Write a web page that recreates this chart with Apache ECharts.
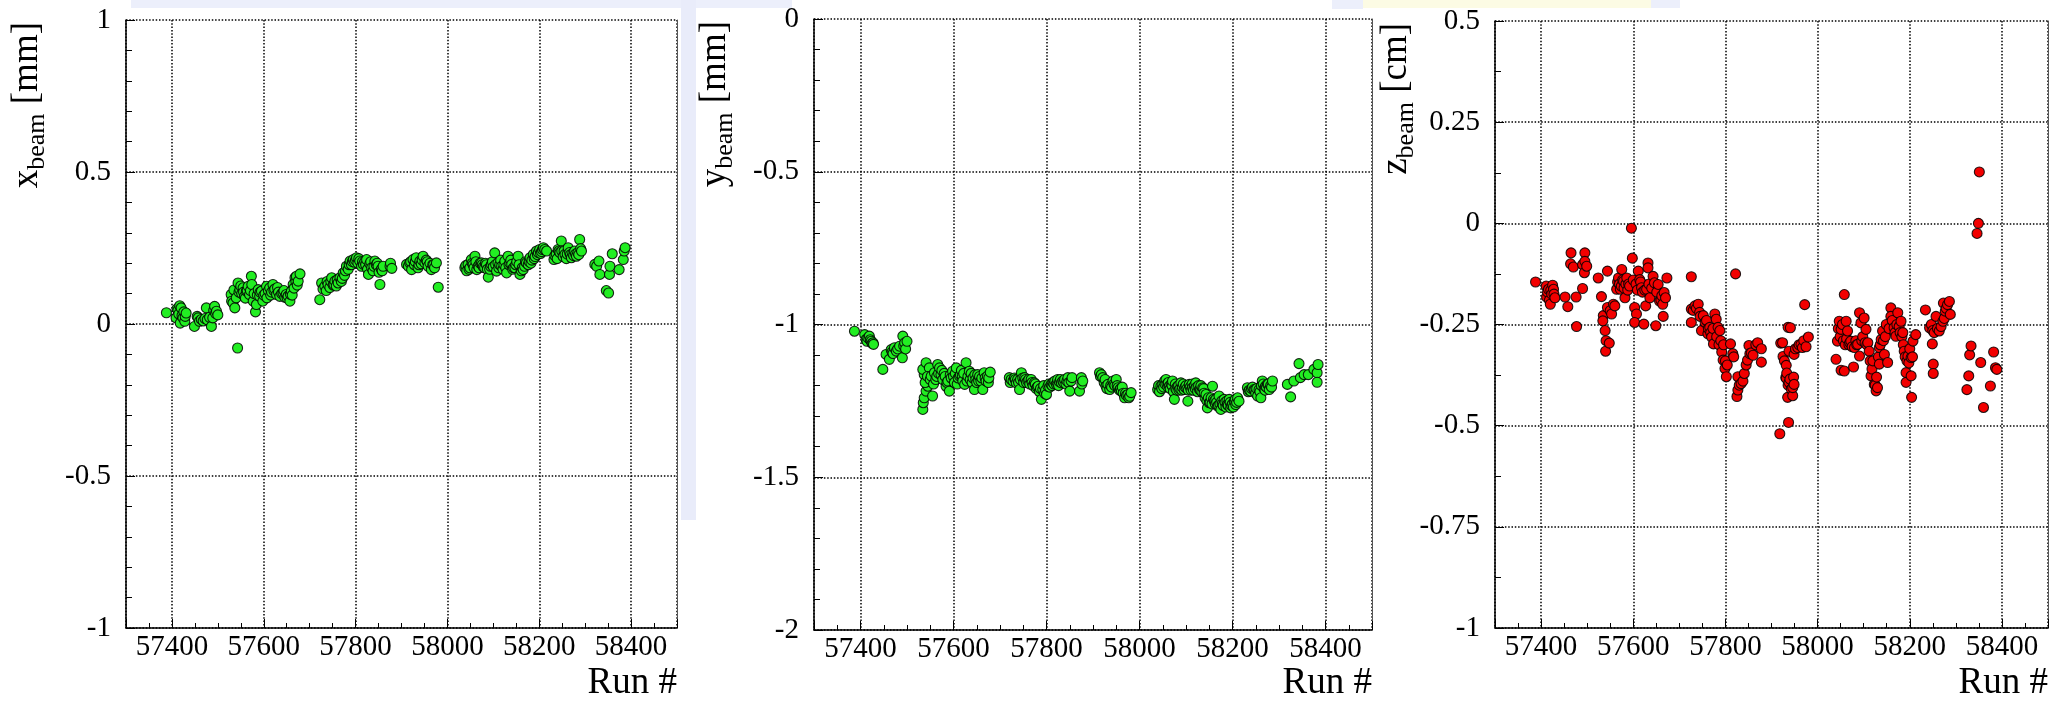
<!DOCTYPE html>
<html>
<head>
<meta charset="utf-8">
<title>Beam position vs run number</title>
<script src="https://cdn.jsdelivr.net/npm/echarts@6/dist/echarts.min.js"></script>
<style>
  html, body { margin: 0; padding: 0; background: #ffffff; }
  #chart { width: 2056px; height: 701px; }
</style>
</head>
<body>
<div id="chart"></div>
<script>
// Beam-spot position per run: [run number, position]
const xbeam = [
  [57388,0.037],[57409,0.020],[57411,0.050],[57413,0.045],[57415,0.033],[57417,0.060],[57418,0.003],
  [57420,0.053],[57422,0.028],[57424,0.020],[57426,0.040],[57428,0.009],[57429,0.025],[57431,0.036],
  [57449,-0.008],[57455,0.025],[57457,0.020],[57460,0.009],[57464,0.015],[57468,0.010],[57472,0.018],
  [57475,0.053],[57477,0.014],[57482,0.022],[57486,-0.008],[57489,0.020],[57491,0.045],[57493,0.058],
  [57495,0.035],[57497,0.042],[57500,0.030],
  [57529,0.097],[57530,0.075],[57533,0.069],[57535,0.112],[57537,0.053],[57540,0.086],[57543,-0.079],
  [57544,0.135],[57546,0.105],[57548,0.113],[57550,0.125],[57552,0.100],[57555,0.119],[57556,0.105],
  [57558,0.091],[57560,0.085],[57562,0.108],[57564,0.110],[57566,0.124],[57569,0.097],[57571,0.110],
  [57573,0.157],[57574,0.130],[57577,0.075],[57579,0.100],[57582,0.040],[57584,0.064],[57586,0.095],
  [57588,0.113],[57591,0.091],[57592,0.105],[57595,0.108],[57598,0.075],[57600,0.095],
  [57603,0.100],[57606,0.124],[57607,0.086],[57610,0.110],[57613,0.119],[57615,0.095],[57617,0.105],
  [57620,0.130],[57622,0.110],[57624,0.115],[57628,0.097],[57630,0.120],[57632,0.105],[57635,0.091],
  [57639,0.100],[57642,0.102],[57644,0.110],[57646,0.088],[57649,0.097],[57651,0.085],[57653,0.092],
  [57657,0.075],[57658,0.098],[57660,0.108],[57662,0.095],[57664,0.130],[57666,0.118],[57668,0.152],
  [57670,0.140],[57671,0.157],[57673,0.128],[57675,0.141],[57679,0.165],
  [57722,0.080],[57726,0.135],[57729,0.115],[57733,0.124],[57736,0.110],[57738,0.140],[57740,0.130],
  [57744,0.120],[57746,0.140],[57748,0.152],[57751,0.128],[57753,0.130],[57755,0.141],[57758,0.125],
  [57760,0.145],[57762,0.135],[57766,0.152],[57769,0.140],[57771,0.150],[57773,0.168],[57776,0.160],
  [57778,0.175],[57780,0.190],[57784,0.180],[57786,0.195],[57788,0.207],[57791,0.195],[57793,0.205],
  [57795,0.212],[57798,0.203],[57800,0.210],[57802,0.218],[57805,0.200],[57807,0.215],[57809,0.207],
  [57813,0.190],[57815,0.205],[57817,0.196],[57820,0.205],[57822,0.195],[57824,0.212],[57826,0.180],
  [57828,0.163],[57831,0.198],[57833,0.205],[57835,0.185],[57838,0.175],[57840,0.190],[57842,0.207],
  [57845,0.195],[57847,0.200],[57849,0.190],[57851,0.170],[57853,0.130],[57856,0.180],[57858,0.175],
  [57860,0.190],[57875,0.190],[57876,0.200],[57879,0.183],
  [57911,0.196],[57915,0.190],[57918,0.201],[57920,0.205],[57922,0.179],[57925,0.212],[57928,0.195],
  [57930,0.205],[57932,0.218],[57936,0.185],[57938,0.195],[57940,0.207],[57943,0.198],[57945,0.210],
  [57947,0.223],[57951,0.201],[57954,0.210],[57956,0.205],[57958,0.190],[57962,0.200],[57965,0.179],
  [57968,0.195],[57970,0.195],[57972,0.185],[57976,0.201],[57980,0.121],
  [58038,0.185],[58040,0.192],[58042,0.175],[58045,0.196],[58047,0.180],[58049,0.185],[58052,0.212],
  [58054,0.200],[58056,0.195],[58058,0.185],[58060,0.223],[58062,0.205],[58064,0.179],[58067,0.190],
  [58069,0.185],[58071,0.200],[58074,0.201],[58076,0.195],[58078,0.188],[58081,0.185],[58083,0.200],
  [58085,0.195],[58087,0.180],[58089,0.154],[58092,0.180],[58094,0.190],[58096,0.196],[58098,0.205],
  [58100,0.188],[58103,0.234],[58105,0.195],[58107,0.174],[58110,0.201],[58112,0.185],[58114,0.195],
  [58116,0.210],[58118,0.190],[58121,0.180],[58123,0.195],[58125,0.207],[58127,0.185],[58129,0.168],
  [58132,0.223],[58134,0.195],[58136,0.200],[58138,0.210],[58140,0.196],[58142,0.180],[58144,0.185],
  [58147,0.185],[58149,0.195],[58151,0.205],[58154,0.223],[58156,0.195],[58158,0.163],[58161,0.175],
  [58163,0.185],[58165,0.179],[58168,0.190],[58170,0.205],[58172,0.201],[58176,0.195],[58178,0.205],
  [58180,0.218],[58182,0.200],[58184,0.210],[58187,0.229],[58189,0.215],[58191,0.222],[58194,0.240],
  [58196,0.228],[58198,0.235],[58201,0.245],[58203,0.232],[58205,0.238],[58207,0.245],[58209,0.251],
  [58212,0.245],[58216,0.240],
  [58232,0.212],[58234,0.225],[58237,0.230],[58239,0.215],[58241,0.245],[58243,0.240],[58245,0.235],
  [58248,0.273],[58249,0.240],[58252,0.222],[58254,0.240],[58256,0.229],[58259,0.215],[58261,0.230],
  [58263,0.251],[58266,0.235],[58268,0.228],[58270,0.218],[58273,0.232],[58275,0.225],[58277,0.240],
  [58279,0.230],[58281,0.223],[58284,0.235],[58286,0.228],[58288,0.278],[58290,0.248],[58292,0.240],
  [58321,0.196],[58325,0.190],[58330,0.207],[58332,0.163],[58346,0.110],[58351,0.102],[58353,0.163],
  [58354,0.190],[58359,0.231],[58374,0.179],[58383,0.212],[58385,0.240],[58387,0.251]
];

const ybeam = [
  [57387,-1.022],[57409,-1.033],[57412,-1.049],[57414,-1.055],[57416,-1.044],[57419,-1.038],[57421,-1.050],
  [57423,-1.055],[57425,-1.062],[57427,-1.060],[57428,-1.065],[57448,-1.147],[57455,-1.098],[57462,-1.114],
  [57466,-1.082],[57468,-1.090],[57470,-1.095],[57473,-1.076],[57477,-1.087],[57480,-1.080],[57484,-1.071],
  [57490,-1.109],[57491,-1.038],[57493,-1.070],[57495,-1.060],[57497,-1.080],[57500,-1.055],
  [57534,-1.278],[57535,-1.256],[57537,-1.240],[57541,-1.218],[57545,-1.202],[57548,-1.185],[57537,-1.164],
  [57534,-1.147],[57541,-1.125],[57548,-1.142],[57539,-1.190],[57544,-1.170],[57550,-1.180],[57552,-1.169],
  [57555,-1.234],[57557,-1.195],[57559,-1.158],[57562,-1.180],[57564,-1.170],[57566,-1.131],[57568,-1.160],
  [57570,-1.142],[57573,-1.164],[57575,-1.150],[57577,-1.180],[57580,-1.160],[57582,-1.170],[57584,-1.202],
  [57586,-1.190],[57588,-1.185],[57591,-1.218],[57593,-1.165],[57595,-1.175],[57598,-1.153],[57600,-1.170],
  [57602,-1.190],[57604,-1.160],[57606,-1.142],[57608,-1.195],[57610,-1.175],[57613,-1.169],[57615,-1.165],
  [57617,-1.150],[57619,-1.170],[57620,-1.185],[57622,-1.160],[57624,-1.196],[57627,-1.125],[57629,-1.185],
  [57631,-1.170],[57634,-1.153],[57636,-1.180],[57638,-1.160],[57640,-1.190],[57642,-1.175],[57645,-1.213],
  [57646,-1.165],[57648,-1.180],[57650,-1.190],[57652,-1.164],[57654,-1.185],[57656,-1.170],[57659,-1.185],
  [57661,-1.175],[57663,-1.213],[57666,-1.158],[57668,-1.175],[57670,-1.185],[57673,-1.169],[57675,-1.190],
  [57676,-1.175],[57679,-1.156],
  [57720,-1.174],[57722,-1.190],[57724,-1.180],[57728,-1.185],[57731,-1.175],[57733,-1.180],[57735,-1.191],
  [57738,-1.180],[57740,-1.190],[57742,-1.213],[57744,-1.180],[57746,-1.158],[57749,-1.175],[57751,-1.190],
  [57753,-1.174],[57755,-1.180],[57757,-1.190],[57760,-1.185],[57762,-1.180],[57764,-1.195],[57767,-1.180],
  [57769,-1.190],[57771,-1.200],[57774,-1.191],[57776,-1.195],[57778,-1.210],[57780,-1.205],[57782,-1.202],
  [57785,-1.220],[57787,-1.210],[57789,-1.245],[57792,-1.213],[57794,-1.200],[57796,-1.225],[57798,-1.215],
  [57800,-1.229],[57803,-1.202],[57805,-1.195],[57807,-1.205],[57810,-1.196],[57812,-1.200],[57814,-1.190],
  [57816,-1.195],[57818,-1.185],[57821,-1.195],[57823,-1.190],[57824,-1.180],[57826,-1.200],[57828,-1.188],
  [57830,-1.180],[57832,-1.191],[57835,-1.185],[57837,-1.190],[57839,-1.180],[57842,-1.195],[57844,-1.185],
  [57846,-1.174],[57848,-1.190],[57850,-1.218],[57853,-1.185],[57855,-1.174],[57871,-1.218],[57875,-1.174],
  [57876,-1.195],[57878,-1.185],
  [57914,-1.158],[57916,-1.170],[57918,-1.164],[57921,-1.174],[57924,-1.190],[57926,-1.180],[57928,-1.202],
  [57930,-1.210],[57932,-1.196],[57936,-1.213],[57938,-1.200],[57940,-1.205],[57943,-1.185],[57945,-1.195],
  [57947,-1.200],[57950,-1.180],[57952,-1.200],[57954,-1.207],[57957,-1.215],[57959,-1.210],[57961,-1.218],
  [57963,-1.205],[57965,-1.225],[57968,-1.240],[57970,-1.225],[57972,-1.232],[57975,-1.229],[57977,-1.240],
  [57979,-1.235],[57982,-1.223],
  [58039,-1.213],[58041,-1.200],[58043,-1.220],[58046,-1.202],[58048,-1.210],[58050,-1.195],[58052,-1.205],
  [58054,-1.185],[58055,-1.195],[58057,-1.180],[58059,-1.195],[58061,-1.205],[58062,-1.190],[58064,-1.202],
  [58066,-1.210],[58068,-1.195],[58070,-1.200],[58071,-1.185],[58073,-1.220],[58075,-1.245],[58077,-1.195],
  [58078,-1.210],[58080,-1.215],[58082,-1.202],[58084,-1.200],[58085,-1.215],[58087,-1.210],[58089,-1.191],
  [58091,-1.215],[58092,-1.205],[58094,-1.195],[58096,-1.213],[58098,-1.205],[58100,-1.200],[58102,-1.210],
  [58104,-1.251],[58105,-1.215],[58107,-1.196],[58109,-1.205],[58111,-1.215],[58113,-1.195],[58114,-1.207],
  [58116,-1.215],[58118,-1.200],[58120,-1.210],[58121,-1.191],[58123,-1.205],[58125,-1.220],[58127,-1.200],
  [58129,-1.213],[58131,-1.215],[58132,-1.200],[58134,-1.220],[58136,-1.207],[58138,-1.210],[58139,-1.225],
  [58141,-1.240],[58143,-1.229],[58145,-1.250],[58146,-1.273],[58148,-1.240],[58150,-1.256],[58152,-1.255],
  [58154,-1.240],[58156,-1.260],[58157,-1.202],[58159,-1.245],[58161,-1.251],[58163,-1.260],[58164,-1.245],
  [58166,-1.255],[58168,-1.267],[58170,-1.265],[58171,-1.234],[58173,-1.260],[58175,-1.278],[58177,-1.250],
  [58178,-1.260],[58180,-1.265],[58182,-1.245],[58184,-1.255],[58186,-1.270],[58188,-1.250],[58189,-1.262],
  [58191,-1.265],[58193,-1.245],[58195,-1.255],[58196,-1.273],[58198,-1.265],[58200,-1.260],[58202,-1.270],
  [58204,-1.251],[58206,-1.245],[58207,-1.262],[58209,-1.255],[58211,-1.240],[58214,-1.251],
  [58232,-1.207],[58234,-1.220],[58236,-1.215],[58239,-1.218],[58241,-1.210],[58243,-1.205],[58246,-1.213],
  [58248,-1.215],[58250,-1.225],[58252,-1.210],[58254,-1.234],[58257,-1.213],[58259,-1.220],[58261,-1.240],
  [58262,-1.200],[58264,-1.185],[58266,-1.195],[58268,-1.210],[58270,-1.215],[58271,-1.202],[58273,-1.205],
  [58275,-1.195],[58277,-1.195],[58279,-1.213],[58282,-1.200],[58284,-1.205],[58286,-1.185],
  [58318,-1.196],[58325,-1.237],[58332,-1.185],[58343,-1.128],[58346,-1.174],[58354,-1.164],[58363,-1.164],
  [58375,-1.147],[58382,-1.158],[58384,-1.131],[58382,-1.189]
];

const zbeam = [
  [57388,-0.145],[57411,-0.155],[57412,-0.182],[57414,-0.170],[57416,-0.163],[57418,-0.190],[57420,-0.200],
  [57421,-0.165],[57423,-0.175],[57425,-0.153],[57427,-0.163],[57428,-0.175],[57430,-0.184],[57452,-0.182],
  [57458,-0.206],[57464,-0.100],[57465,-0.073],[57470,-0.108],[57476,-0.182],[57477,-0.255],[57490,-0.161],
  [57490,-0.102],[57494,-0.122],[57495,-0.073],[57495,-0.094],[57499,-0.106],
  [57524,-0.135],[57531,-0.181],[57535,-0.228],[57534,-0.241],[57539,-0.265],[57541,-0.290],[57540,-0.316],
  [57544,-0.118],[57544,-0.208],[57548,-0.296],[57550,-0.216],[57553,-0.224],[57557,-0.200],[57560,-0.204],
  [57564,-0.163],[57566,-0.145],[57568,-0.135],[57570,-0.150],[57572,-0.163],[57574,-0.155],[57575,-0.114],
  [57577,-0.140],[57579,-0.143],[57580,-0.160],[57582,-0.184],[57584,-0.150],[57586,-0.135],[57588,-0.165],
  [57590,-0.150],[57592,-0.155],[57596,-0.012],[57598,-0.086],[57600,-0.140],[57603,-0.208],[57606,-0.150],
  [57607,-0.224],[57603,-0.245],[57609,-0.165],[57611,-0.118],[57614,-0.139],[57616,-0.145],[57618,-0.159],
  [57620,-0.170],[57623,-0.249],[57625,-0.165],[57627,-0.204],[57629,-0.163],[57632,-0.098],[57632,-0.110],
  [57634,-0.150],[57636,-0.184],[57640,-0.160],[57643,-0.131],[57646,-0.147],[57649,-0.253],[57651,-0.170],
  [57654,-0.151],[57657,-0.192],[57660,-0.190],[57662,-0.179],[57664,-0.200],[57665,-0.230],[57667,-0.171],
  [57670,-0.184],[57673,-0.135],
  [57726,-0.132],[57726,-0.212],[57726,-0.245],[57730,-0.215],[57734,-0.204],[57737,-0.210],[57741,-0.200],
  [57744,-0.220],[57745,-0.230],[57748,-0.265],[57752,-0.228],[57756,-0.245],[57759,-0.240],[57762,-0.273],
  [57763,-0.260],[57766,-0.257],[57768,-0.270],[57770,-0.281],[57773,-0.260],[57774,-0.298],[57777,-0.224],
  [57780,-0.237],[57781,-0.280],[57784,-0.257],[57786,-0.300],[57788,-0.265],[57790,-0.290],[57792,-0.318],
  [57795,-0.338],[57796,-0.300],[57799,-0.359],[57800,-0.340],[57802,-0.379],[57804,-0.350],[57811,-0.298],
  [57816,-0.322],[57818,-0.330],[57822,-0.125],[57825,-0.428],[57827,-0.379],[57827,-0.412],[57830,-0.400],
  [57834,-0.396],[57838,-0.390],[57841,-0.371],[57845,-0.350],[57848,-0.338],[57851,-0.302],[57853,-0.322],
  [57856,-0.320],[57860,-0.326],[57866,-0.300],[57870,-0.295],[57878,-0.310],[57878,-0.343],
  [57918,-0.520],[57920,-0.296],[57924,-0.295],[57925,-0.329],[57928,-0.340],[57931,-0.381],[57932,-0.351],
  [57932,-0.383],[57933,-0.370],[57935,-0.430],[57936,-0.400],[57936,-0.257],[57937,-0.492],[57938,-0.316],
  [57938,-0.393],[57940,-0.385],[57941,-0.258],[57943,-0.410],[57946,-0.426],[57946,-0.406],[57948,-0.380],
  [57949,-0.324],[57949,-0.398],[57952,-0.310],[57957,-0.307],[57960,-0.300],[57964,-0.299],[57967,-0.307],
  [57970,-0.290],[57972,-0.201],[57975,-0.305],[57980,-0.281],
  [58040,-0.336],[58043,-0.291],[58045,-0.260],[58047,-0.242],[58049,-0.280],[58051,-0.262],[58051,-0.363],
  [58054,-0.250],[58056,-0.290],[58058,-0.365],[58058,-0.176],[58060,-0.300],[58062,-0.242],[58063,-0.285],
  [58065,-0.266],[58068,-0.300],[58070,-0.295],[58072,-0.291],[58075,-0.305],[58078,-0.355],[58080,-0.307],
  [58083,-0.290],[58085,-0.300],[58087,-0.299],[58091,-0.221],[58091,-0.328],[58094,-0.246],[58096,-0.290],
  [58098,-0.280],[58101,-0.234],[58103,-0.295],[58105,-0.262],[58107,-0.300],[58109,-0.295],[58112,-0.316],
  [58114,-0.340],[58116,-0.377],[58118,-0.360],[58120,-0.340],[58123,-0.398],[58125,-0.400],[58127,-0.414],
  [58128,-0.380],[58130,-0.406],[58132,-0.330],[58134,-0.348],[58134,-0.307],[58136,-0.300],[58138,-0.287],
  [58141,-0.266],[58143,-0.290],[58145,-0.324],[58147,-0.280],[58149,-0.250],[58152,-0.344],[58155,-0.260],
  [58159,-0.209],[58159,-0.230],[58162,-0.240],[58166,-0.258],[58168,-0.270],[58170,-0.279],[58172,-0.250],
  [58174,-0.221],[58177,-0.255],[58179,-0.270],[58181,-0.242],[58183,-0.280],[58185,-0.270],[58186,-0.300],
  [58188,-0.316],[58190,-0.330],[58192,-0.369],[58192,-0.393],[58194,-0.340],[58196,-0.328],[58198,-0.345],
  [58200,-0.310],[58203,-0.332],[58203,-0.377],[58204,-0.430],[58206,-0.330],[58207,-0.291],[58213,-0.275],
  [58234,-0.214],[58243,-0.258],[58247,-0.250],[58249,-0.298],[58250,-0.265],[58251,-0.348],[58251,-0.371],
  [58253,-0.270],[58257,-0.230],[58260,-0.260],[58264,-0.266],[58268,-0.255],[58272,-0.242],[58273,-0.197],
  [58275,-0.235],[58277,-0.217],[58279,-0.210],[58282,-0.201],[58286,-0.193],[58288,-0.225],
  [58324,-0.411],[58328,-0.377],[58330,-0.325],[58333,-0.303],[58346,-0.025],[58349,0.000],[58351,0.127],
  [58354,-0.344],[58360,-0.455],[58375,-0.402],[58382,-0.318],[58386,-0.357],[58389,-0.361]
];

// Axis ranges and tick steps for each panel
const runRange = [57300, 58500];
const yRanges = [[-1, 1], [-2, 0], [-1, 0.5]];
const yIntervals = [0.5, 0.5, 0.25];
const yMinorSplits = [5, 5, 2];
const yUnits = ['[mm]', '[mm]', '[cm]'];
const yLetters = ['x', 'y', 'z'];
const xTitle = 'Run #';

const FONT = "'Liberation Serif', 'Times New Roman', serif";

// Frame of each panel in pixels
const panels = [
  { left: 126, top: 20, width: 551, height: 608 },
  { left: 814, top: 19, width: 558, height: 611 },
  { left: 1495, top: 21, width: 553, height: 607 }
];

const dotted = { color: '#000', width: 1.5, type: [1.5, 1.8] };

const grids = [], xAxes = [], yAxes = [], series = [], graphics = [];

// faint slide background strips behind the panels
graphics.push(
  { type: 'rect', z: -10, shape: { x: 131, y: 0, width: 661, height: 8 }, style: { fill: '#eceffb' } },
  { type: 'rect', z: -10, shape: { x: 681, y: 0, width: 15, height: 520 }, style: { fill: '#e9ecfa' } },
  { type: 'rect', z: -10, shape: { x: 1332, y: 0, width: 31, height: 9 }, style: { fill: '#eceffb' } },
  { type: 'rect', z: -10, shape: { x: 1363, y: 0, width: 288, height: 8 }, style: { fill: '#fcfbe4' } },
  { type: 'rect', z: -10, shape: { x: 1651, y: 0, width: 29, height: 8 }, style: { fill: '#eceffb' } }
);

const datasets = [xbeam, ybeam, zbeam];
const colors = ['#22ee22', '#22ee22', '#f20000'];

panels.forEach((p, i) => {
  grids.push({ left: p.left, top: p.top, width: p.width, height: p.height, containLabel: false });

  xAxes.push({
    type: 'value', gridIndex: i, min: runRange[0], max: runRange[1], splitNumber: 5,
    axisLine: { show: true, onZero: false, lineStyle: { color: '#000', width: 1.5 } },
    axisTick: { show: true, inside: true, length: 9, lineStyle: { color: '#000', width: 1 } },
    minorTick: { show: true, splitNumber: 4, length: 5, lineStyle: { color: '#000', width: 1 } },
    axisLabel: {
      show: true, showMinLabel: false, showMaxLabel: false, margin: 5,
      fontFamily: FONT, fontSize: 29, color: '#000',
      formatter: v => String(v)
    },
    splitLine: { show: true, lineStyle: dotted }
  });

  yAxes.push({
    type: 'value', gridIndex: i, position: 'left',
    min: yRanges[i][0], max: yRanges[i][1], interval: yIntervals[i],
    axisLine: { show: true, onZero: false, lineStyle: { color: '#000', width: 1.5 } },
    axisTick: { show: true, inside: true, length: 9, lineStyle: { color: '#000', width: 1 } },
    minorTick: { show: true, splitNumber: yMinorSplits[i], length: 6, lineStyle: { color: '#000', width: 1 } },
    axisLabel: {
      show: true, margin: 15, fontFamily: FONT, fontSize: 29, color: '#000',
      formatter: v => String(+v.toFixed(3))
    },
    splitLine: { show: true, lineStyle: dotted }
  });

  // right edge of the frame
  yAxes.push({
    type: 'value', gridIndex: i, position: 'right',
    min: yRanges[i][0], max: yRanges[i][1], interval: yIntervals[i],
    axisLine: { show: true, onZero: false, lineStyle: { color: '#555', width: 1 } },
    axisTick: { show: false }, axisLabel: { show: false }, splitLine: { show: false }
  });

  series.push({
    type: 'scatter', xAxisIndex: i, yAxisIndex: 2 * i, data: datasets[i],
    symbol: 'circle', symbolSize: 10,
    itemStyle: { color: colors[i], borderColor: 'rgba(0,0,0,0.85)', borderWidth: 1.1, opacity: 1 },
    emphasis: { disabled: true }, silent: true
  });

  // vertical title with subscript, reading bottom to top
  graphics.push({
    type: 'text', x: p.left - 89, y: p.top + 2, rotation: Math.PI / 2,
    style: {
      text: '{m|' + yLetters[i] + '}{s|beam}{m| ' + yUnits[i] + '}',
      align: 'right', verticalAlign: 'middle', fill: '#000',
      fontFamily: FONT, fontSize: 37,
      rich: {
        m: { fontFamily: FONT, fontSize: 37, lineHeight: 37, verticalAlign: 'top', fill: '#000' },
        s: { fontFamily: FONT, fontSize: 26, lineHeight: 57, verticalAlign: 'middle', fill: '#000' }
      }
    }
  });

  // horizontal title under the axis end
  graphics.push({
    type: 'text', x: p.left + p.width, y: 683,
    style: { text: xTitle, align: 'right', verticalAlign: 'middle', fill: '#000', fontFamily: FONT, fontSize: 37 }
  });
});

const chart = echarts.init(document.getElementById('chart'), null, { renderer: 'canvas', width: 2056, height: 701 });
chart.setOption({
  backgroundColor: '#ffffff',
  animation: false,
  grid: grids,
  xAxis: xAxes,
  yAxis: yAxes,
  series: series,
  graphic: graphics
});
</script>
</body>
</html>
